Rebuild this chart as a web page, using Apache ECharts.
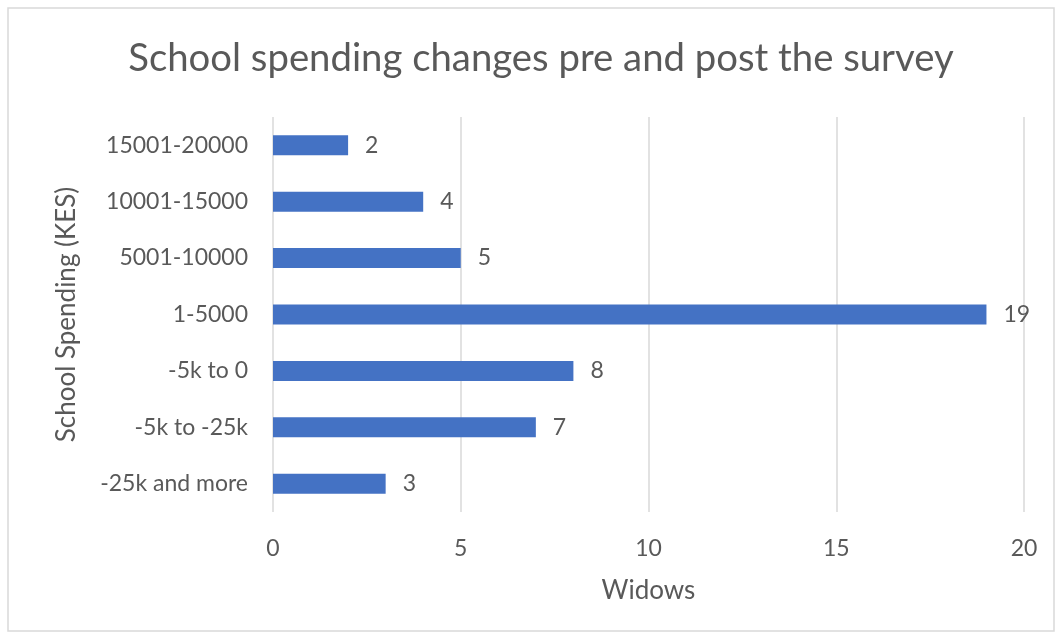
<!DOCTYPE html>
<html>
<head>
<meta charset="utf-8">
<script src="https://cdn.jsdelivr.net/npm/echarts@6/dist/echarts.min.js"></script>
<style>html,body{margin:0;padding:0;background:#fff;}#c{width:1059px;height:638px;}</style>
</head>
<body>
<div id="c"></div>
<script>
const categories = ['15001-20000', '10001-15000', '5001-10000', '1-5000', '-5k to 0', '-5k to -25k', '-25k and more'];
const widows = [2, 4, 5, 19, 8, 7, 3];
const xTicks = [0, 5, 10, 15, 20];
const titleText = 'School spending changes pre and post the survey';
const xName = 'Widows';
const yName = 'School Spending (KES)';

const FONT = 'Lato';
const GREY = '#595959';
const chart = echarts.init(document.getElementById('c'), null, {renderer: 'canvas'});
chart.setOption({
  animation: false,
  backgroundColor: '#fff',
  graphic: [{
    type: 'rect', shape: {x: 8, y: 8, width: 1046, height: 623},
    style: {fill: 'none', stroke: '#d9d9d9', lineWidth: 1.5}, silent: true
  }],
  title: {
    text: titleText, left: 536, top: 35, textAlign: 'center',
    textStyle: {fontFamily: FONT, fontSize: 38.3, fontWeight: 'normal', color: GREY}
  },
  grid: {left: 273, right: 35, top: 117, bottom: 126, containLabel: false},
  xAxis: {
    type: 'value', min: xTicks[0], max: xTicks[xTicks.length - 1], interval: 5,
    axisLine: {show: false}, axisTick: {show: false},
    splitLine: {show: true, lineStyle: {color: '#d9d9d9', width: 1.5}},
    axisLabel: {fontFamily: FONT, fontSize: 23, color: GREY, margin: 25},
    name: xName, nameLocation: 'middle', nameGap: 66,
    nameTextStyle: {fontFamily: FONT, fontSize: 26, color: GREY}
  },
  yAxis: {
    type: 'category', data: categories, inverse: true,
    axisLine: {show: false}, axisTick: {show: false},
    axisLabel: {fontFamily: FONT, fontSize: 23, color: GREY, margin: 25},
    name: yName, nameLocation: 'middle', nameGap: 193, nameRotate: 90,
    nameTextStyle: {fontFamily: FONT, fontSize: 26, color: GREY}
  },
  series: [{
    type: 'bar', data: widows, barWidth: 20,
    itemStyle: {color: '#4472C4'},
    label: {show: true, position: 'right', distance: 17, fontFamily: FONT, fontSize: 23, color: GREY}
  }]
});
</script>
</body>
</html>
